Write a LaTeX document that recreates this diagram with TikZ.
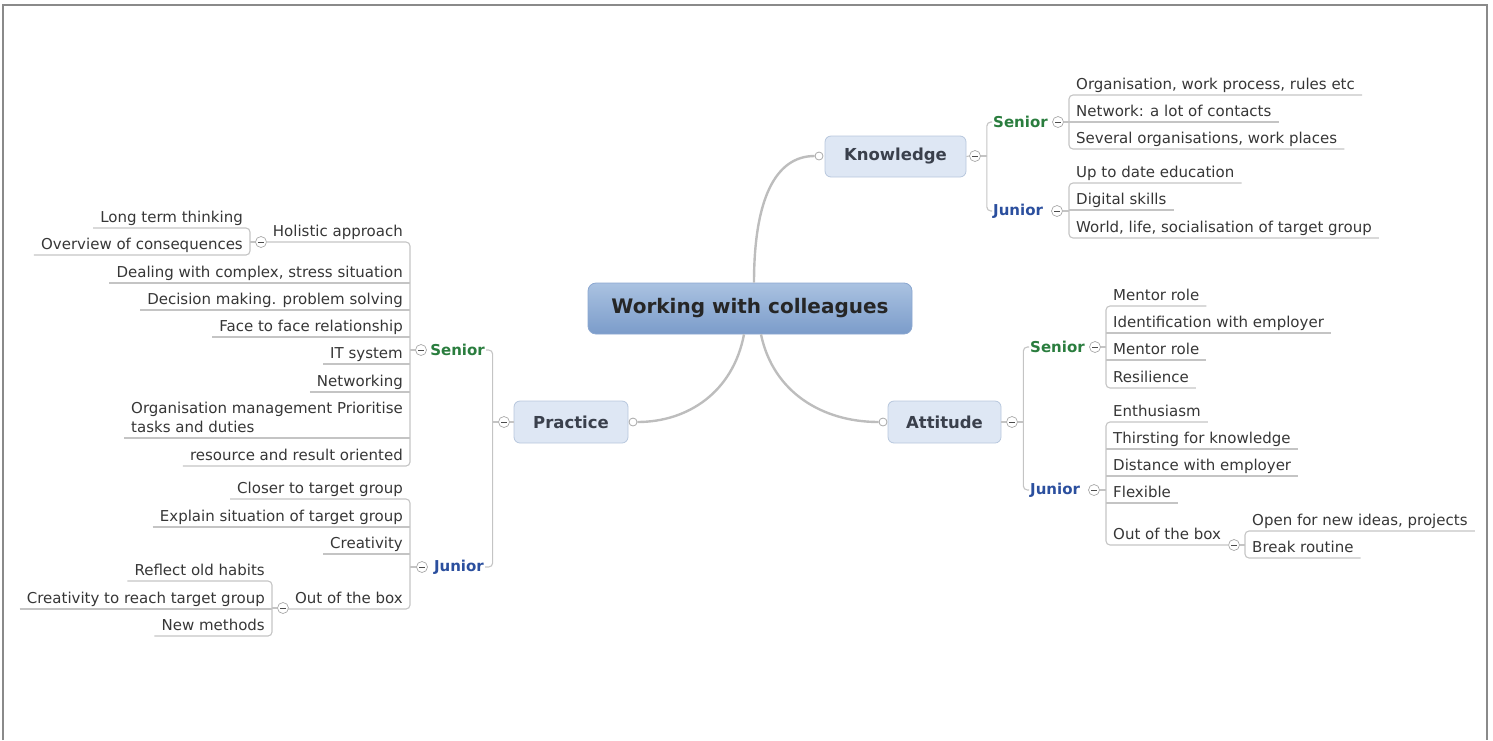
\documentclass[tikz,border=0pt]{standalone}
\usepackage{fontspec}
\setmainfont{DejaVu Sans}
\usetikzlibrary{calc}
\definecolor{lnc}{HTML}{C4C4C4}
\definecolor{brc}{HTML}{BDBDBD}
\definecolor{txc}{HTML}{363636}
\definecolor{snc}{HTML}{2A7D3E}
\definecolor{jnc}{HTML}{2B4F9E}
\definecolor{tpf}{HTML}{DEE7F4}
\definecolor{tpd}{HTML}{B7C7DD}
\definecolor{tpt}{HTML}{3A404C}
\definecolor{ctop}{HTML}{AAC2E1}
\definecolor{cbot}{HTML}{7B9CCA}
\definecolor{cdr}{HTML}{8BA7D0}
\definecolor{btc}{HTML}{A8A8A8}
\definecolor{frc}{HTML}{8A8A8A}
\tikzset{
 leafbase/.style={inner xsep=7pt, text=txc, font=\fontsize{15}{19}\selectfont},
 leafR/.style={leafbase, anchor=south west, text height=11pt, text depth=3.5pt, inner ysep=1.5pt},
 leafL/.style={leafbase, anchor=south east, text height=11pt, text depth=3.5pt, inner ysep=1.5pt},
 ln/.style={draw=lnc, line width=1.1pt},
 br/.style={ln, rounded corners=4pt},
 mainln/.style={draw=brc, line width=2.4pt},
 topic/.style={draw=tpd, fill=tpf, rounded corners=6pt, text=tpt, font=\bfseries\fontsize{16.5}{20}\selectfont, line width=0.8pt},
 senlab/.style={text=snc, font=\bfseries\fontsize{15}{18}\selectfont, inner xsep=1pt},
 junlab/.style={text=jnc, font=\bfseries\fontsize{15}{18}\selectfont, inner xsep=1pt},
 btn/.style={circle, draw=btc, fill=white, minimum size=11pt, inner sep=0pt, line width=0.7pt,
   path picture={\draw[black!70, line width=0.8pt] ([xshift=-2.6pt]path picture bounding box.center) -- ([xshift=2.6pt]path picture bounding box.center);}},
 knob/.style={circle, draw=btc, fill=white, minimum size=8pt, inner sep=0pt, line width=0.8pt},
}
\begin{document}
\begin{tikzpicture}[x=1pt,y=-1pt]
\useasboundingbox (0,0) rectangle (1493,740);
\draw[frc, line width=1.5pt] (3,740) -- (3,5) -- (1487,5) -- (1487,740);

% central and main topics
\node[draw=cdr, top color=ctop, bottom color=cbot, rounded corners=8pt, minimum width=324pt, minimum height=51pt, font=\bfseries\fontsize{20}{24}\selectfont, text=black!85, line width=0.8pt] (c) at (750,308.5) {Working with colleagues};
\node[topic, minimum width=141pt, minimum height=41pt] (k) at (895.5,156.5) {Knowledge};
\node[topic, minimum width=114pt, minimum height=42pt] (p) at (571,422) {Practice};
\node[topic, minimum width=113pt, minimum height=42pt] (a) at (944.5,422) {Attitude};
\node[knob] (kk) at (819,156) {};
\node[knob] (pk) at (633,422) {};
\node[knob] (ak) at (883,422) {};
\draw[mainln] ($(c.north)+(4,0)$) .. controls (754,200) and (775,156) .. (kk.west);
\draw[mainln] ($(c.south)+(11,0)$) .. controls (773,392) and (822,422) .. (ak.west);
\draw[mainln] ($(c.south)+(-6,0)$) .. controls (733,392) and (688,422) .. (pk.east);

% ===== Knowledge
\node[btn] (kb) at (975,156) {};
\draw[ln] (k.east) -- (kb.west);
\node[senlab, anchor=west] (ks) at (992,122) {Senior};
\node[btn] (ksb) at (1058,122) {};
\node[junlab, anchor=west] (kj) at (992,211) {Junior};
\node[btn] (kjb) at (1057,211) {};
\draw[ln] (kb.east) -- ++(6,0);
\draw[br] (ks.west) -| ($(kb.east)+(6,0)$) |- (kj.west);

\node[leafR] (k1) at (1069,95) {Organisation, work process, rules etc};
\node[leafR] (k2) at (1069,122) {Network: a lot of contacts};
\node[leafR] (k3) at (1069,149) {Several organisations, work places};
\draw[br] (k1.south east) -- (k1.south west) -- (k3.south west) -- (k3.south east);
\draw[ln] (k2.south west) -- (k2.south east);
\draw[ln] (ksb.east) -- (ksb.east -| k1.south west);

\node[leafR] (k4) at (1069,183) {Up to date education};
\node[leafR] (k5) at (1069,210) {Digital skills};
\node[leafR] (k6) at (1069,238) {World, life, socialisation of target group};
\draw[br] (k4.south east) -- (k4.south west) -- (k6.south west) -- (k6.south east);
\draw[ln] (k5.south west) -- (k5.south east);
\draw[ln] (kjb.east) -- (kjb.east -| k4.south west);

% ===== Attitude
\node[btn] (ab) at (1012,422) {};
\draw[ln] (a.east) -- (ab.west);
\node[senlab, anchor=west] (as) at (1029,347) {Senior};
\node[btn] (asb) at (1095,347) {};
\node[junlab, anchor=west] (aj) at (1029,490) {Junior};
\node[btn] (ajb) at (1094,490) {};
\draw[ln] (ab.east) -- ++(5.5,0);
\draw[br] (as.west) -| ($(ab.east)+(5.5,0)$) |- (aj.west);

\node[leafR] (a1) at (1106,306) {Mentor role};
\node[leafR] (a2) at (1106,333) {Identification with employer};
\node[leafR] (a3) at (1106,360) {Mentor role};
\node[leafR] (a4) at (1106,388) {Resilience};
\draw[br] (a1.south east) -- (a1.south west) -- (a4.south west) -- (a4.south east);
\draw[ln] (a2.south west) -- (a2.south east);
\draw[ln] (a3.south west) -- (a3.south east);
\draw[ln] (asb.east) -- (asb.east -| a1.south west);

\node[leafR] (a5) at (1106,422) {Enthusiasm};
\node[leafR] (a6) at (1106,449) {Thirsting for knowledge};
\node[leafR] (a7) at (1106,476) {Distance with employer};
\node[leafR] (a8) at (1106,503) {Flexible};
\node[leafR] (a9) at (1106,545) {Out of the box};
\draw[br] (a5.south east) -- (a5.south west) -- (a9.south west) -- (a9.south east);
\draw[ln] (a6.south west) -- (a6.south east);
\draw[ln] (a7.south west) -- (a7.south east);
\draw[ln] (a8.south west) -- (a8.south east);
\draw[ln] (ajb.east) -- (ajb.east -| a5.south west);

\node[btn] (aob) at (1234,545) {};
\draw[ln] (a9.south east) -- (aob.west);
\node[leafR] (a10) at (1245,531) {Open for new ideas, projects};
\node[leafR] (a11) at (1245,558) {Break routine};
\draw[br] (a10.south east) -- (a10.south west) -- (a11.south west) -- (a11.south east);
\draw[ln] (aob.east) -- (aob.east -| a10.south west);

% ===== Practice
\node[btn] (pb) at (504,422) {};
\draw[ln] (p.west) -- (pb.east);
\node[senlab, anchor=east] (ps) at (486,350) {Senior};
\node[btn] (psb) at (421,350) {};
\node[junlab, anchor=east] (pj) at (485,567) {Junior};
\node[btn] (pjb) at (422,567) {};
\draw[ln] (pb.west) -- ++(-5.5,0);
\draw[br] (ps.east) -| ($(pb.west)+(-5.5,0)$) |- (pj.east);

\node[leafL] (q1) at (410,242) {Holistic approach};
\node[leafL] (q2) at (410,283) {Dealing with complex, stress situation};
\node[leafL] (q3) at (410,310) {Decision making. problem solving};
\node[leafL] (q4) at (410,337) {Face to face relationship};
\node[leafL] (q5) at (410,364) {IT system};
\node[leafL] (q6) at (410,392) {Networking};
\node[leafbase, anchor=south east, align=left, inner ysep=5pt] (q7) at (410,438) {Organisation management Prioritise\\tasks and duties};
\node[leafL] (q8) at (410,466) {resource and result oriented};
\draw[br] (q1.south west) -- (q1.south east) -- (q8.south east) -- (q8.south west);
\draw[ln] (q2.south west) -- (q2.south east);
\draw[ln] (q3.south west) -- (q3.south east);
\draw[ln] (q4.south west) -- (q4.south east);
\draw[ln] (q5.south west) -- (q5.south east);
\draw[ln] (q6.south west) -- (q6.south east);
\draw[ln] (q7.south west) -- (q7.south east);
\draw[ln] (psb.west) -- (psb.west -| q1.south east);

\node[btn] (qhb) at (261,242) {};
\draw[ln] (q1.south west) -- (qhb.east);
\node[leafL] (h1) at (250,228) {Long term thinking};
\node[leafL] (h2) at (250,255) {Overview of consequences};
\draw[br] (h1.south west) -- (h1.south east) -- (h2.south east) -- (h2.south west);
\draw[ln] (qhb.west) -- (qhb.west -| h1.south east);

\node[leafL] (r1) at (410,499) {Closer to target group};
\node[leafL] (r2) at (410,527) {Explain situation of target group};
\node[leafL] (r3) at (410,554) {Creativity};
\node[leafL] (r4) at (410,609) {Out of the box};
\draw[br] (r1.south west) -- (r1.south east) -- (r4.south east) -- (r4.south west);
\draw[ln] (r2.south west) -- (r2.south east);
\draw[ln] (r3.south west) -- (r3.south east);
\draw[ln] (pjb.west) -- (pjb.west -| r1.south east);

\node[btn] (rob) at (283,608) {};
\draw[ln] (r4.south west) -- (rob.east);
\node[leafL] (o1) at (272,581) {Reflect old habits};
\node[leafL] (o2) at (272,609) {Creativity to reach target group};
\node[leafL] (o3) at (272,636) {New methods};
\draw[br] (o1.south west) -- (o1.south east) -- (o3.south east) -- (o3.south west);
\draw[ln] (o2.south west) -- (o2.south east);
\draw[ln] (rob.west) -- (rob.west -| o1.south east);
\end{tikzpicture}
\end{document}
